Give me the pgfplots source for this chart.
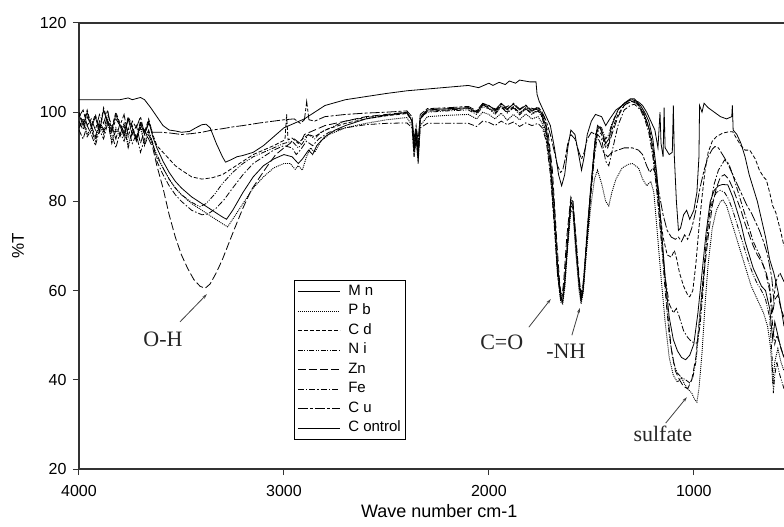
\documentclass[border=0pt]{standalone}
\usepackage{pgfplots}
\pgfplotsset{compat=1.18}
\usepackage{fontspec}
\setmainfont{Liberation Sans}
\newfontfamily\serifann{Liberation Serif}
\usetikzlibrary{arrows.meta}
\pgfplotsset{
 mn/.style={black, line width=0.8pt, solid},
 pb/.style={black, line width=0.9pt, dash pattern=on 1pt off 1pt},
 cd/.style={black, line width=0.8pt, dash pattern=on 4pt off 2pt},
 ni/.style={black, line width=0.8pt, dash pattern=on 5pt off 1.5pt on 1pt off 1.5pt on 1pt off 1.5pt},
 zn/.style={black, line width=0.8pt, dash pattern=on 8pt off 3pt},
 fe/.style={black, line width=0.8pt, dash pattern=on 6pt off 2pt on 1.5pt off 2pt},
 cu/.style={black, line width=0.8pt, dash pattern=on 10pt off 2pt on 3pt off 2pt},
 ctrl/.style={black, line width=0.8pt, solid},
}
\begin{document}
\begin{tikzpicture}
\begin{axis}[
  scale only axis, width=705pt, height=446pt,
  xmin=560, xmax=4000, x dir=reverse,
  ymin=20, ymax=120,
  axis x line*=box, axis y line*=left,
  axis line style={line width=1.2pt, black!80},
  xtick={4000,3000,2000,1000}, ytick={20,40,60,80,100,120},
  xtick pos=bottom, ytick pos=left,
  tick align=outside, major tick length=6pt,
  tick style={line width=1pt, black!80},
  /pgf/number format/1000 sep={},
  /pgf/number format/assume math mode=true,
  tick label style={font=\fontsize{16}{19}\selectfont},
  xticklabel style={yshift=-7pt},
  yticklabel style={xshift=-3pt},
  xlabel={Wave number cm-1}, ylabel={\%T},
  every axis x label/.style={at={(axis description cs:0.511,0)}, anchor=base, yshift=-48pt, font=\fontsize{18}{21}\selectfont},
  every axis y label/.style={at={(axis description cs:-0.078,0.5)}, rotate=90, anchor=base, font=\fontsize{17}{20}\selectfont},
  legend cell align=left,
  legend image code/.code={\draw[#1] (0pt,0pt) -- (42pt,0pt); \path (48pt,0pt);},
  legend style={at={(0.305,0.424)}, anchor=north west, draw=black, line width=0.8pt, fill=white,
    font=\fontsize{15}{18}\selectfont, inner xsep=3pt, inner ysep=2pt, row sep=1pt,
    nodes={inner sep=2pt, text height=11pt, text depth=3.5pt}},
]
% Mn
\addplot[mn] coordinates {(4000,99.5)(3980,97)(3960,100)(3940,96.5)(3920,99)(3900,95.5)(3880,100.5)(3860,97.5)(3840,96)(3820,99.5)(3800,97)(3780,94.5)(3760,98.5)(3740,96.5)(3720,93.5)(3700,97.5)(3680,95)(3660,98)(3640,94.5)
(3620,92)(3590,89)(3560,86.5)(3530,84.5)(3500,83)(3450,81)(3400,79.5)(3350,78)(3300,76.5)(3280,76)(3250,78)(3200,82)(3150,85.5)(3100,88)(3050,89.5)(3000,90.5)(2960,90)(2930,88.5)(2910,89.5)(2880,91.5)(2860,90.5)(2840,92.5)(2800,94.5)(2750,96)(2700,97)(2600,98.5)(2500,99.3)(2400,100)(2375,98)(2365,91)(2355,95)(2345,90)(2335,98.5)(2300,100.5)(2200,100.8)(2100,101)(2060,100)(2030,101.8)(2000,101.5)(1970,100.5)(1940,102)(1910,100.8)(1880,101.8)(1850,100.5)(1820,101.5)(1790,100.2)(1760,101)(1740,99.5)(1720,96.5)(1700,90)(1680,78)(1665,66)(1650,58.5)(1640,57.5)(1630,62)(1615,72)(1600,80)(1590,79)(1575,70)(1560,62)(1550,58)(1540,60)(1525,70)(1505,82)(1485,92)(1470,97)(1450,96)(1430,93)(1415,94)(1400,97)(1370,100.5)(1340,102)(1310,103)(1290,103)(1260,101.5)(1240,100)(1220,98)(1200,94)(1180,86)(1160,75)(1140,63)(1120,54)(1100,49)(1080,46.5)(1060,45)(1040,44.5)(1020,45.5)(1000,48)(980,55)(960,64)(940,73)(920,80)(900,82.5)(880,83.5)(860,83.8)(834,83.7)(810,81)(790,78)(770,75)(750,71)(730,68)(710,65)(690,63)(670,61)(650,60)(630,56)(615,49)(605,53)(590,50)(575,47)(560,45)};
\addlegendentry{M n}
% Pb
\addplot[pb] coordinates {(4000,97)(3980,98.5)(3960,95)(3940,96.5)(3920,94)(3900,97.5)(3880,95.5)(3860,98.5)(3840,93.5)(3820,96.5)(3800,95)(3780,97.5)(3760,92.5)(3740,96)(3720,94.5)(3700,97)(3680,93)(3660,95.5)(3640,93)
(3620,90)(3590,87.5)(3560,85)(3530,83)(3500,81.5)(3450,79.5)(3400,78)(3350,76.5)(3300,75)(3275,74.3)(3250,76)(3200,79.5)(3150,83)(3100,85.5)(3050,87.5)(3000,88.5)(2970,88.5)(2945,87.2)(2930,88)(2910,87)(2890,90)(2870,92)(2850,91)(2820,93.5)(2780,95)(2700,96.5)(2600,97.5)(2500,98.3)(2400,98.8)(2375,97)(2365,90)(2355,94)(2345,88.5)(2335,97)(2300,99)(2200,99.3)(2100,99.5)(2060,98.5)(2030,100)(2000,99.5)(1970,98.5)(1940,99.8)(1910,98.2)(1880,99.5)(1850,98.3)(1820,99.6)(1790,98.5)(1760,99)(1740,97.5)(1720,94)(1700,87)(1680,75)(1665,64)(1650,57.5)(1640,57)(1630,60.5)(1615,70)(1600,78)(1590,77.5)(1575,68)(1560,60)(1550,57)(1540,59.5)(1525,68)(1505,78)(1485,85)(1470,87)(1450,84)(1430,80)(1415,79)(1400,82)(1380,85)(1350,87.5)(1320,88.3)(1300,88.5)(1270,87.5)(1250,85)(1230,83.5)(1210,84.5)(1195,82)(1180,74)(1160,63)(1140,53)(1120,45)(1100,41)(1080,39.5)(1060,40.5)(1045,39)(1030,38)(1010,37)(995,35.5)(985,35)(975,38)(960,46)(945,57)(930,66)(910,74)(890,78)(870,80)(858,80.3)(840,79)(820,76)(800,73)(780,70)(760,67)(740,64)(720,61)(700,59)(680,57)(660,55)(640,52)(625,47)(615,39)(605,44)(590,47)(575,44)(560,42)};
\addlegendentry{P b}
% Cd
\addplot[cd] coordinates {(4000,100)(3980,97.5)(3960,100.5)(3940,97)(3920,99.5)(3900,96)(3880,101)(3860,98)(3840,96.5)(3820,100)(3800,97.5)(3780,95)(3760,99)(3740,97)(3720,94)(3700,98)(3680,95.5)(3660,98.5)(3640,95)
(3620,92.5)(3590,91)(3560,89.5)(3530,88)(3500,87)(3450,85.5)(3400,85)(3350,85.3)(3300,86)(3250,87.5)(3200,89)(3150,90.5)(3100,91.5)(3050,92.5)(2995,93.8)(2987,99.5)(2980,93.8)(2960,94.2)(2930,93)(2910,94)(2880,95)(2850,94.5)(2800,96)(2700,97.5)(2600,98.5)(2500,99.2)(2400,99.7)(2375,98)(2365,91.5)(2355,95.5)(2345,90.5)(2335,98.5)(2300,100.2)(2200,100.5)(2100,100.8)(2060,99.8)(2030,101.5)(2000,101)(1970,99.8)(1940,101.5)(1910,100)(1880,101.3)(1850,99.8)(1820,101)(1790,99.7)(1760,100.5)(1740,99)(1720,95.5)(1700,88)(1680,75)(1665,64)(1650,59)(1640,58.5)(1630,62)(1615,71)(1600,79.5)(1590,79)(1575,70)(1560,61.5)(1550,58.5)(1540,60.5)(1525,69)(1505,81)(1485,91)(1470,96)(1450,95)(1430,92)(1415,93)(1400,96)(1370,99.5)(1340,101.5)(1310,102.3)(1290,102.5)(1260,101)(1240,99)(1220,96.5)(1200,92)(1185,86)(1170,79)(1150,72)(1130,68)(1110,67.5)(1095,69)(1083,67)(1070,64)(1050,61)(1030,59)(1020,58.6)(1005,60)(990,66)(975,74)(960,81)(945,87)(930,91)(910,93.5)(890,94.5)(860,95.3)(830,95.6)(810,95.6)(790,94)(770,92.5)(750,91.5)(727,91.5)(700,89.5)(680,87)(660,85.5)(646,84.8)(630,82)(615,79)(600,77.5)(580,74)(560,70)};
\addlegendentry{C d}
% Ni
\addplot[ni] coordinates {(4000,96.5)(3980,98)(3960,94.5)(3940,96)(3920,93.5)(3900,97)(3880,95)(3860,98)(3840,93)(3820,96)(3800,94.5)(3780,97)(3760,92)(3740,95.5)(3720,94)(3700,96.5)(3680,92.5)(3660,95)(3640,92.5)
(3620,90.5)(3590,87.5)(3560,85)(3530,83)(3500,81.5)(3450,79.8)(3410,78.8)(3380,79.5)(3340,81.5)(3300,84)(3250,86.5)(3200,88.5)(3150,90)(3100,91)(3050,92)(3000,93)(2960,93.5)(2930,92)(2910,93)(2880,95)(2850,94)(2820,95.5)(2750,97)(2700,98)(2600,98.8)(2500,99.4)(2400,99.8)(2375,98.5)(2365,92.5)(2355,96)(2345,91)(2335,98.8)(2300,100)(2200,100.3)(2100,100.5)(2060,99.5)(2030,101.2)(2000,100.8)(1970,99.5)(1940,101.2)(1910,99.8)(1880,101)(1850,99.4)(1820,100.8)(1790,99.5)(1760,100.3)(1740,98.8)(1720,95)(1700,88.5)(1680,76)(1665,65)(1650,59.5)(1640,59)(1630,62.5)(1615,71.5)(1600,80.5)(1590,80)(1575,71)(1560,62.5)(1550,59.5)(1540,61.5)(1525,70)(1505,82)(1485,92)(1470,97)(1450,96.5)(1430,94)(1415,95)(1400,97.5)(1370,100.5)(1340,102)(1310,102.8)(1290,102.8)(1260,101.2)(1240,99.5)(1220,96.5)(1200,91)(1180,83)(1160,72)(1140,60)(1120,50)(1100,44)(1080,41.5)(1060,40.5)(1040,40)(1020,39.3)(1005,40.5)(990,44)(975,51)(960,60)(945,68)(930,75)(910,80)(890,82)(870,82.5)(850,82)(830,80.5)(810,78)(790,75)(770,72)(750,69)(730,66)(710,63.5)(690,61.5)(670,60)(650,58)(630,54)(618,45)(612,37)(605,41)(595,44)(580,41)(560,38)};
\addlegendentry{N i}
% Zn
\addplot[zn] coordinates {(4000,98)(3980,96)(3960,99)(3940,97)(3920,94.5)(3900,98)(3880,96)(3860,99.5)(3840,97)(3820,94)(3800,97.5)(3780,95.5)(3760,98.5)(3740,95)(3720,97)(3700,93)(3680,96)(3660,94)(3640,92)
(3620,88)(3590,83)(3560,77)(3530,72)(3500,68)(3470,65)(3440,62.5)(3410,61)(3385,60.5)(3360,61.5)(3330,64)(3300,67)(3270,70.5)(3240,74)(3200,78.5)(3160,82.5)(3117,85.5)(3080,88)(3040,90.5)(3000,92)(2970,93)(2950,94)(2920,93)(2900,95)(2850,96)(2800,97)(2700,98)(2600,99)(2500,99.5)(2400,100)(2375,98)(2365,93)(2355,96)(2345,92)(2335,99)(2300,100.5)(2200,100.5)(2100,101)(2060,100)(2030,101.6)(2000,101.2)(1950,100.5)(1900,101.5)(1850,100)(1800,101)(1760,100.5)(1730,99)(1710,95)(1690,87)(1670,72)(1655,62)(1645,58)(1635,62)(1620,72)(1600,81)(1590,80)(1575,72)(1560,63)(1548,58)(1535,64)(1520,74)(1500,84)(1480,95)(1460,97)(1440,94)(1420,92)(1400,95)(1370,99)(1340,101.5)(1310,102.5)(1280,102)(1250,100)(1230,98)(1210,95)(1190,89)(1170,80)(1150,68)(1130,56)(1110,47)(1090,42)(1070,40)(1050,38.5)(1030,38)(1010,40)(990,45)(970,55)(950,64)(930,72)(910,79)(890,83)(870,85.5)(850,86)(830,85)(810,83)(790,80.5)(770,78)(750,75)(730,72.5)(710,70)(690,68)(670,66.5)(650,64.5)(630,61)(615,55)(605,58)(590,59)(575,56)(560,54)};
\addlegendentry{Zn}
% Fe
\addplot[fe] coordinates {(4000,96)(3980,94)(3960,97)(3940,95)(3920,92.5)(3900,96)(3880,94)(3860,97.5)(3840,95)(3820,92)(3800,95.5)(3780,93.5)(3760,96.5)(3740,93)(3720,95)(3700,91)(3680,94)(3660,96)(3640,93)
(3620,89)(3590,86)(3560,83.5)(3530,81.5)(3500,80)(3450,78)(3400,77)(3370,77.2)(3330,78.5)(3290,80.5)(3250,83)(3200,86)(3150,88.5)(3100,90)(3050,91.5)(3000,92.5)(2960,92)(2940,90.5)(2920,91.5)(2890,93.5)(2860,92.5)(2830,94)(2780,95.5)(2700,96.5)(2600,97.2)(2500,97.5)(2400,97.6)(2375,96.5)(2365,90)(2355,94)(2345,89)(2335,96.5)(2300,97.5)(2200,97.5)(2100,97.5)(2060,96.8)(2030,98)(2000,97.7)(1970,97)(1940,98)(1910,97.2)(1880,97.8)(1850,96.8)(1820,97.6)(1790,97)(1760,97.5)(1740,96.5)(1720,93.5)(1700,86)(1680,74)(1665,63.5)(1650,58)(1640,57.5)(1630,61)(1615,70.5)(1600,79)(1590,78.5)(1575,69)(1560,61)(1550,57.5)(1540,60)(1525,68.5)(1505,80)(1485,90)(1470,95)(1450,94)(1430,89)(1415,88)(1400,91)(1370,97)(1340,100.5)(1310,101.5)(1290,101.8)(1260,100.5)(1240,98.5)(1220,95.5)(1200,90)(1180,82)(1160,72)(1140,63)(1120,57)(1100,55)(1085,56)(1070,54)(1050,51)(1030,49.5)(1010,48.5)(985,48.2)(970,52)(955,60)(940,70)(920,79)(900,84)(880,87)(860,88.5)(850,89.3)(830,88.5)(810,86)(790,83)(770,80)(750,77)(730,74)(710,71)(690,69)(670,67)(650,64)(630,60)(615,52)(605,48)(595,50)(580,48)(560,45)};
\addlegendentry{Fe}
% Cu
\addplot[cu] coordinates {(4000,99)(3980,100.5)(3960,97)(3940,98.5)(3920,96)(3900,99.5)(3880,97.5)(3860,100.5)(3840,95.5)(3820,98.5)(3800,97)(3780,99.5)(3760,94.5)(3740,98)(3720,96.5)(3700,99)(3680,95)(3660,97.5)(3640,95.5)
(3600,95.5)(3550,95.3)(3500,95)(3450,95.2)(3400,95.5)(3350,96)(3300,96.3)(3250,96.7)(3200,97)(3117,97.6)(3050,98)(3000,98.3)(2950,98.5)(2920,97.5)(2900,98.3)(2889,102.4)(2878,98.3)(2850,98)(2800,99)(2700,99.5)(2600,99.8)(2500,100)(2400,100.3)(2375,99)(2365,94)(2355,97)(2345,93.5)(2335,99.5)(2300,100.8)(2200,101)(2100,101.3)(2060,100.3)(2030,102)(2000,101.5)(1970,100.2)(1940,101.8)(1910,100.5)(1880,102)(1850,100.7)(1820,101.6)(1790,100.4)(1760,101.2)(1740,100)(1720,98)(1700,95)(1680,91)(1665,88)(1650,86.5)(1640,87)(1630,89)(1615,93)(1600,95)(1580,94)(1560,91)(1548,89.5)(1535,91)(1520,94)(1500,95.5)(1480,95)(1460,93.5)(1440,91)(1420,90)(1400,91)(1370,91.5)(1340,92)(1300,92)(1270,91.5)(1250,90.5)(1230,88)(1215,86.5)(1200,87.5)(1185,86)(1170,82)(1150,77)(1130,73.5)(1110,72)(1090,71.5)(1075,72)(1060,71)(1045,72.5)(1030,71.5)(1010,74)(990,78)(970,83)(950,87)(930,90)(910,91.7)(897,92.3)(880,92)(860,90.5)(840,89)(820,87)(800,85)(780,83)(760,81)(740,79)(720,77.5)(700,75.5)(680,73.5)(660,71)(640,68)(620,63)(610,58)(600,62)(580,64)(560,62)};
\addlegendentry{C u}
% Control
\addplot[ctrl] coordinates {(4000,102.8)(3900,102.8)(3800,102.8)(3760,103.2)(3740,102.8)(3700,103.3)(3680,102.8)(3650,101)(3620,99)(3590,97)(3560,96)(3530,95.8)(3500,95.5)(3460,95.7)(3430,96.5)(3400,97.2)(3380,97.3)(3360,96.5)(3330,93)(3300,90)(3285,88.8)(3260,89.3)(3230,90)(3200,90.3)(3150,91)(3100,92.5)(3050,94.5)(3000,96.5)(2950,97.5)(2900,98.5)(2850,100)(2800,101.5)(2700,102.8)(2600,103.5)(2500,104.2)(2400,104.8)(2300,105.2)(2200,105.6)(2100,106)(2050,105.5)(2000,106.5)(1980,106)(1950,106.7)(1920,106.2)(1900,107)(1870,106.5)(1850,107.2)(1800,106.8)(1770,106.8)(1765,104)(1755,102.5)(1740,101)(1720,99)(1700,97)(1680,92)(1660,86)(1645,83.5)(1630,86)(1615,92)(1600,96)(1580,95)(1560,90)(1548,87)(1535,90)(1520,95)(1500,98)(1480,99.5)(1450,99)(1430,97)(1410,98.5)(1380,100.5)(1350,101.5)(1320,102.5)(1300,102.8)(1270,102.3)(1250,101.5)(1230,100)(1210,98)(1190,96)(1175,92)(1165,100)(1160,93)(1150,90)(1145,101)(1140,92)(1120,90.5)(1105,91)(1100,101.5)(1095,90)(1085,80)(1075,73.5)(1065,74)(1050,77)(1035,78)(1020,76)(1000,78)(985,82)(975,90)(972,101.5)(960,100)(950,102)(930,101)(900,100)(870,99)(840,98.5)(815,99)(812,101.5)(808,96)(790,95)(770,93)(750,90)(730,86)(710,83)(690,80)(670,76)(650,72)(630,67)(610,64)(590,60)(570,55)(560,52)};
\addlegendentry{C ontrol}
% annotations
\node[font=\serifann\fontsize{22}{26}\selectfont, text=black!85] at (axis cs:3590,49.1) {O-H};
\draw[black!75, line width=0.8pt, -{Stealth[length=5pt,width=3pt]}] (axis cs:3507,53) -- (axis cs:3376,59.2);
\node[font=\serifann\fontsize{22}{26}\selectfont, text=black!85] at (axis cs:1937,48.5) {C=O};
\draw[black!75, line width=0.8pt, -{Stealth[length=5pt,width=3pt]}] (axis cs:1805,51.8) -- (axis cs:1698,58.1);
\node[font=\serifann\fontsize{22}{26}\selectfont, text=black!85] at (axis cs:1624,46.5) {-NH};
\draw[black!75, line width=0.8pt, -{Stealth[length=5pt,width=3pt]}] (axis cs:1595,50) -- (axis cs:1556,56.1);
\node[font=\serifann\fontsize{22}{26}\selectfont, text=black!85] at (axis cs:1151,27.8) {sulfate};
\draw[black!75, line width=0.8pt, -{Stealth[length=5pt,width=3pt]}] (axis cs:1137,30.3) -- (axis cs:1034,36.1);
\end{axis}
\pgfresetboundingbox
\path[use as bounding box] (-79pt,-58pt) rectangle (705pt,469pt);
\end{tikzpicture}
\end{document}
